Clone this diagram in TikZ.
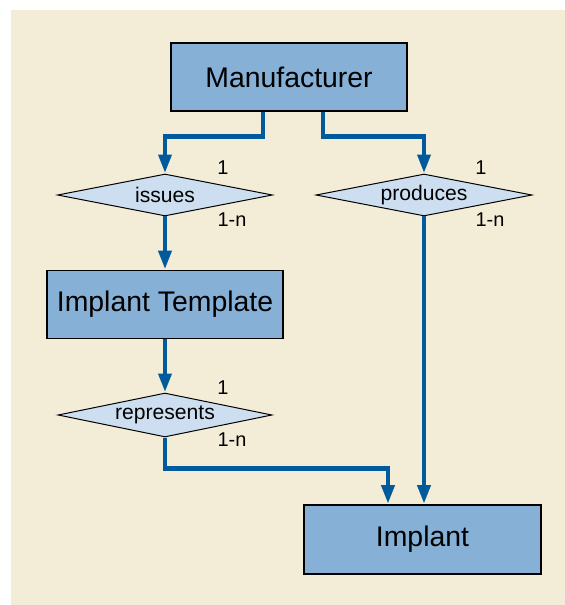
\documentclass[tikz,border=0pt]{standalone}
\usepackage{fontspec}
\setmainfont{Liberation Sans}
\usetikzlibrary{shapes.geometric,arrows.meta,calc}

\definecolor{paper}{RGB}{243,236,214}
\definecolor{entityfill}{RGB}{134,176,214}
\definecolor{relfill}{RGB}{204,222,240}
\definecolor{linkblue}{RGB}{0,90,156}

\tikzset{
  entity/.style={draw=black, line width=1.7pt, fill=entityfill, rectangle,
    inner sep=0pt, minimum width=236bp, minimum height=68bp,
    font=\fontsize{28.5}{32}\selectfont},
  relation/.style={draw=black, line width=1pt, fill=relfill, diamond, aspect=5,
    inner sep=0pt, minimum width=215bp, minimum height=42bp,
    font=\fontsize{21.2}{24}\selectfont},
  card/.style={font=\fontsize{20}{22}\selectfont, inner sep=0pt},
  conn/.style={draw=linkblue, line width=4.8pt,
    -{Triangle[length=19bp,width=12.5bp]}},
}

\begin{document}
\begin{tikzpicture}[x=1bp, y=-1bp]
  \useasboundingbox (0,0) rectangle (565,605);
  \fill[paper] (11,10) rectangle (565,605);

  % entities
  \node[entity] (man)  at (289,77)      {Manufacturer};
  \node[entity] (tmpl) at (165,304.5)   {Implant Template};
  \node[entity, minimum width=237bp, minimum height=69bp] (impl) at (422.5,539.5) {Implant};

  % relationships
  \node[relation] (issues)     at (165,195) {issues};
  \node[relation, minimum width=216bp] (produces) at (424,195) {produces};
  \node[relation, minimum width=214bp, minimum height=44bp] (represents) at (165,415) {represents};

  % cardinalities
  \node[card] (c1) at (223,168) {1};
  \node[card] (c2) at (232,220) {1-n};
  \node[card] (c3) at (481,168) {1};
  \node[card] (c4) at (490,220) {1-n};
  \node[card] (c5) at (223,388) {1};
  \node[card] (c6) at (232,440) {1-n};

  % connectors
  \draw[conn] ([xshift=-26bp]man.south) -- ++(0,25) -| (issues.north);
  \draw[conn] ([xshift=34bp]man.south) -- ++(0,25) -| (produces.north);
  \draw[conn] (issues.south) -- (tmpl.north);
  \draw[conn] (tmpl.south) -- (represents.north);
  \draw[conn] (represents.south) -- ++(0,31) -| ([xshift=-34.5bp]impl.north);
  \draw[conn] (produces.south) -- (produces.south |- impl.north);
\end{tikzpicture}
\end{document}
